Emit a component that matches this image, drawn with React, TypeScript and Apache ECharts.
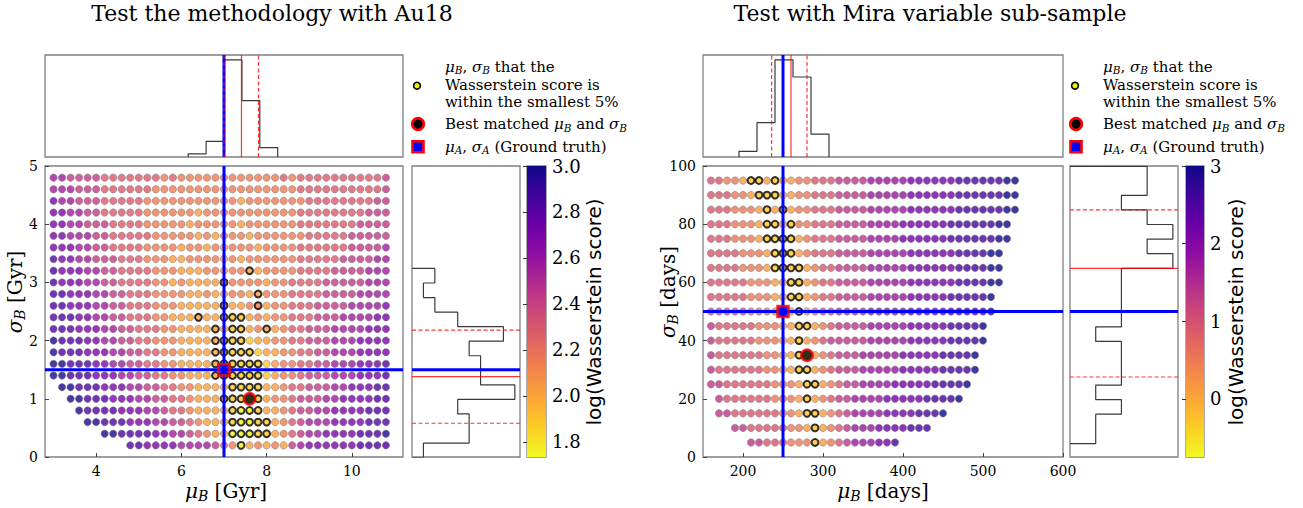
import React, { useEffect, useRef } from "react";
import * as echarts from "echarts";

const SERIF = '"DejaVu Serif", serif';
const SANS = '"DejaVu Sans", sans-serif';

// ---------------- Panel A: Au18 ----------------
const MU_AU18 = [3.0, 3.2, 3.4, 3.6, 3.8, 4.0, 4.2, 4.4, 4.6, 4.8, 5.0, 5.2, 5.4, 5.6, 5.8, 6.0, 6.2, 6.4, 6.6, 6.8,
  7.0, 7.2, 7.4, 7.6, 7.8, 8.0, 8.2, 8.4, 8.6, 8.8, 9.0, 9.2, 9.4, 9.6, 9.8, 10.0, 10.2, 10.4, 10.6, 10.8];
const SIGMA_AU18 = [4.8, 4.6, 4.4, 4.2, 4.0, 3.8, 3.6, 3.4, 3.2, 3.0, 2.8, 2.6, 2.4, 2.2, 2.0, 1.8, 1.6, 1.4, 1.2, 1.0, 0.8, 0.6, 0.4, 0.2];
// one string per sigma row, one char per mu column: log score = LO + code * STEP ("-" = no point)
const SCORE_CODES_AU18 = [
  "6655554444" + "4443433333" + "3333333434" + "4444444445",
  "6665554444" + "4433333333" + "3333333334" + "4444444445",
  "7665554444" + "4333333333" + "3323333333" + "4444444455",
  "7766554444" + "4333333233" + "3333333334" + "4444444555",
  "7766555444" + "4333332333" + "3323333334" + "4444445555",
  "7766655444" + "4433333232" + "3332333333" + "4444455555",
  "7776655444" + "4333323323" + "2333233334" + "4444455556",
  "8776655544" + "4333223333" + "2323333334" + "4444555566",
  "8777665544" + "4433322233" + "2332233334" + "4445555666",
  "8777665544" + "4433232222" + "2333323344" + "4455555666",
  "8877766554" + "4433332232" + "2332233344" + "4455556666",
  "8877766554" + "4433322222" + "2223323344" + "4555566667",
  "8887766554" + "4433222222" + "1112323344" + "4555666677",
  "8887776655" + "4443322222" + "2112322344" + "5556666777",
  "9888776655" + "4433322222" + "1111223344" + "5556667777",
  "9888777665" + "5443322222" + "1111122334" + "4556667777",
  "9988877665" + "5443322222" + "1111112334" + "4556667778",
  "9988877766" + "5544332222" + "1111112334" + "5556667778",
  "-998887776" + "6554433222" + "2111122344" + "5556677788",
  "--99888777" + "6655443222" + "1110123345" + "5566777788",
  "---9888877" + "7665443222" + "2100122345" + "5667777888",
  "----998887" + "7766554322" + "2100112345" + "6667777888",
  "------9988" + "8877665432" + "2000112345" + "6677778889",
  "---------8" + "8777766665" + "4302323256" + "7777778888",
];
const SCORE_LO_AU18 = 1.75;
const SCORE_STEP_AU18 = 0.135;
const CBAR_RANGE_AU18 = [1.734, 3.0];
const CBAR_TICKS_AU18 = [1.8, 2.0, 2.2, 2.4, 2.6, 2.8, 3.0];
const SMALLEST_AU18 = [
  [7.6, 3.2], [7.0, 3.0], [7.8, 2.8], [7.0, 2.6], [7.8, 2.6],
  [6.4, 2.4], [7.0, 2.4], [7.2, 2.4], [7.4, 2.4],
  [6.8, 2.2], [7.2, 2.2], [7.4, 2.2], [8.0, 2.2],
  [6.8, 2.0], [7.0, 2.0], [7.2, 2.0], [7.4, 2.0],
  [6.8, 1.8], [7.0, 1.8], [7.2, 1.8], [7.4, 1.8], [7.6, 1.8],
  [6.8, 1.6], [7.0, 1.6], [7.2, 1.6], [7.4, 1.6], [7.6, 1.6], [7.8, 1.6],
  [6.8, 1.4], [7.0, 1.4], [7.2, 1.4], [7.4, 1.4], [7.6, 1.4], [7.8, 1.4],
  [7.2, 1.2], [7.4, 1.2], [7.6, 1.2], [7.8, 1.2],
  [7.0, 1.0], [7.2, 1.0], [7.4, 1.0], [7.8, 1.0],
  [7.2, 0.8], [7.4, 0.8], [7.6, 0.8], [7.8, 0.8],
  [7.2, 0.6], [7.4, 0.6], [7.6, 0.6], [7.8, 0.6], [8.0, 0.6],
  [7.2, 0.4], [7.4, 0.4], [7.6, 0.4], [7.8, 0.4], [8.0, 0.4],
  [7.4, 0.2],
];
const BEST_AU18 = [7.6, 1.0];
const TRUTH_AU18 = [7.0, 1.5];
const HIST_MU_EDGES_AU18 = [6.16, 6.58, 7.0, 7.42, 7.84, 8.26];
const HIST_MU_COUNTS_AU18 = [1, 5, 31, 18, 3];
const HIST_SIG_EDGES_AU18 = [-0.01, 0.24, 0.49, 0.74, 0.99, 1.24, 1.49, 1.74, 1.99, 2.24, 2.49, 2.74, 2.99, 3.24];
const HIST_SIG_COUNTS_AU18 = [1, 5, 5, 4, 9, 6, 6, 5, 8, 4, 2, 1, 2];
const MU_PCT_AU18 = [7.0, 7.41, 7.81]; // 16th, 50th, 84th
const SIG_PCT_AU18 = [0.58, 1.38, 2.18];

// ---------------- Panel B: Mira ----------------
const MU_MIRA = [160, 170, 180, 190, 200, 210, 220, 230, 240, 250, 260, 270, 280, 290, 300, 310, 320, 330, 340, 350,
  360, 370, 380, 390, 400, 410, 420, 430, 440, 450, 460, 470, 480, 490, 500, 510, 520, 530, 540];
const SIGMA_MIRA = [95, 90, 85, 80, 75, 70, 65, 60, 55, 50, 45, 40, 35, 30, 25, 20, 15, 10, 5];
const SCORE_CODES_MIRA = [
  "4433211212" + "2334445555" + "6666677777" + "788888899",
  "4443321112" + "2334445555" + "6666677777" + "788888899",
  "4443332121" + "2334445555" + "6666677777" + "788888899",
  "4443332112" + "1334445555" + "6666777777" + "88888899-",
  "4443332111" + "1234445555" + "6666777777" + "88888899-",
  "4444333211" + "1234445555" + "6666677777" + "7888899--",
  "4444333211" + "1123445555" + "6666677777" + "7888899--",
  "4444433322" + "1123445555" + "6666677777" + "7888899--",
  "4444433322" + "1123445555" + "6666677777" + "888889---",
  "4444433321" + "2123445555" + "6666677777" + "888889---",
  "5444443332" + "2112345555" + "6666677777" + "88889----",
  "5444443332" + "2123455555" + "6666677777" + "88889----",
  "5444444332" + "2102345556" + "6666777778" + "8889-----",
  "5444444332" + "2112345556" + "6666777778" + "8889-----",
  "5544444433" + "3211234556" + "6667777788" + "889------",
  "-544444433" + "3212345566" + "6677777888" + "89-------",
  "-554444443" + "3211234566" + "6677778889" + "---------",
  "---5544444" + "3321234566" + "67777888--" + "---------",
  "-----55444" + "3331234566" + "6778------" + "---------",
];
const SCORE_LO_MIRA = -0.7;
const SCORE_STEP_MIRA = 0.41;
const CBAR_RANGE_MIRA = [-0.75, 3.0];
const CBAR_TICKS_MIRA = [0, 1, 2, 3];
const SMALLEST_MIRA = [
  [210, 95], [220, 95], [240, 95],
  [220, 90], [230, 90], [240, 90],
  [230, 85], [250, 85],
  [230, 80], [240, 80], [260, 80],
  [230, 75], [240, 75], [250, 75], [260, 75],
  [240, 70], [250, 70], [260, 70],
  [240, 65], [250, 65], [260, 65], [270, 65],
  [260, 60], [270, 60],
  [260, 55], [270, 55],
  [250, 50], [270, 50],
  [270, 45], [280, 45],
  [270, 40],
  [270, 35],
  [270, 30], [280, 30],
  [280, 25], [290, 25],
  [280, 20],
  [280, 15], [290, 15],
  [290, 10],
  [290, 5],
];
const BEST_MIRA = [280, 35];
const TRUTH_MIRA = [250, 50];
const HIST_MU_EDGES_MIRA = [195, 217.5, 240, 262.5, 285, 307.5];
const HIST_MU_COUNTS_MIRA = [1, 6, 17, 14, 4];
const HIST_SIG_EDGES_MIRA = [4.6, 9.6, 14.7, 19.7, 24.7, 29.7, 34.7, 39.7, 44.7, 49.7, 54.8, 59.8, 64.8, 69.9, 74.9, 79.9, 84.9, 89.9, 94.9, 99.9];
const HIST_SIG_COUNTS_MIRA = [1, 1, 2, 1, 2, 2, 2, 1, 2, 2, 2, 2, 4, 3, 4, 3, 2, 3, 3];
const MU_PCT_MIRA = [235.8, 260, 280];
const SIG_PCT_MIRA = [27.5, 64.8, 84.9];

const PLASMA = ["#0d0887", "#41049d", "#6a00a8", "#8f0da4", "#b12a90", "#cc4778", "#e16462", "#f2844b", "#fca636", "#fcce25", "#f0f921"];
const PLASMA_R = [...PLASMA].reverse();

const BORDER = "#808080";
const RED = "rgba(255,0,0,0.8)";
const BLUE = "#0000ff";

function scatterData(mu: number[], sig: number[], codes: string[], lo: number, step: number, hl: number[][]) {
  const out: any[] = [];
  codes.forEach((row, r) => {
    for (let c = 0; c < row.length; c++) {
      const ch = row[c];
      if (ch === "-") continue;
      const m = mu[c];
      const s = sig[r];
      const isHl = hl.some((p) => Math.abs(p[0] - m) < 1e-6 && Math.abs(p[1] - s) < 1e-6);
      const item: any = { value: [m, s, lo + step * Number(ch)] };
      if (isHl) {
        item.symbolSize = 6.8;
        item.itemStyle = { borderColor: "#000", borderWidth: 2 };
      }
      out.push(item);
    }
  });
  return out;
}

function stepX(edges: number[], counts: number[]) {
  const pts: number[][] = [[edges[0], 0]];
  counts.forEach((c, i) => {
    pts.push([edges[i], c]);
    pts.push([edges[i + 1], c]);
  });
  pts.push([edges[edges.length - 1], 0]);
  return pts;
}
function stepY(edges: number[], counts: number[]) {
  const pts: number[][] = [[0, edges[0]]];
  counts.forEach((c, i) => {
    pts.push([c, edges[i]]);
    pts.push([c, edges[i + 1]]);
  });
  pts.push([0, edges[edges.length - 1]]);
  return pts;
}

const SOLID_BLUE = { color: BLUE, width: 3, type: "solid" };
const SOLID_RED = { color: RED, width: 1.2, type: "solid" };
const DASH_RED = { color: RED, width: 1.2, type: [4, 2.5] };

function refLine(axis: number, pts: number[][], style: any, z: number) {
  return {
    type: "line", xAxisIndex: axis, yAxisIndex: axis, data: pts, z, silent: true,
    showSymbol: false, symbol: "none", lineStyle: { ...style }, emphasis: { disabled: true },
  };
}

function mainAxis(gridIndex: number, min: number, max: number, ticks: number[], fmt?: (v: number) => string) {
  return {
    type: "value", gridIndex, min, max,
    axisLine: { show: false }, splitLine: { show: false },
    axisTick: { show: true, inside: true, length: 4, customValues: ticks, lineStyle: { color: "#444", width: 1 } },
    axisLabel: { show: true, customValues: ticks, margin: 7, fontFamily: SERIF, fontSize: 14, color: "#000", formatter: fmt },
  };
}
function hiddenAxis(gridIndex: number, min: number, max: number) {
  return { type: "value", gridIndex, min, max, show: false, splitLine: { show: false } };
}
function cbarAxis(gridIndex: number, min: number, max: number, ticks: number[], fmt: (v: number) => string) {
  return {
    type: "value", gridIndex, min, max, position: "right",
    axisLine: { show: false }, splitLine: { show: false },
    axisTick: { show: true, inside: true, length: 4, customValues: ticks, lineStyle: { color: "#333" } },
    axisLabel: { show: true, customValues: ticks, margin: 6, fontFamily: SERIF, fontSize: 18, color: "#000", formatter: fmt },
  };
}

function panelSeries(base: number, p: any) {
  const [x0, x1] = p.xRange;
  const [y0, y1] = p.yRange;
  return [
    {
      type: "scatter", xAxisIndex: base, yAxisIndex: base, z: 2,
      symbol: "circle", symbolSize: 7.4,
      itemStyle: { borderColor: "rgba(120,120,120,0.75)", borderWidth: 0.8 },
      data: scatterData(p.mu, p.sig, p.codes, p.lo, p.step, p.hl),
    },
    refLine(base, [[p.truth[0], y0], [p.truth[0], y1]], SOLID_BLUE, 5),
    refLine(base, [[x0, p.truth[1]], [x1, p.truth[1]]], SOLID_BLUE, 5),
    {
      type: "scatter", xAxisIndex: base, yAxisIndex: base, z: 10,
      symbol: "circle", symbolSize: 11.5,
      itemStyle: { color: "#000", borderColor: "#ff0000", borderWidth: 2.4 },
      data: [p.best],
    },
    {
      type: "scatter", xAxisIndex: base, yAxisIndex: base, z: 11,
      symbol: "rect", symbolSize: 11,
      itemStyle: { color: BLUE, borderColor: "#ff0000", borderWidth: 2.6 },
      data: [p.truth],
    },
    // top histogram (mu)
    {
      type: "line", xAxisIndex: base + 1, yAxisIndex: base + 1, showSymbol: false, symbol: "none", z: 3,
      lineStyle: { color: "#3a3a3a", width: 1.2 },
      data: stepX(p.muEdges, p.muCounts),
    },
    refLine(base + 1, [[p.truth[0], 0], [p.truth[0], p.muMax]], SOLID_BLUE, 4),
    refLine(base + 1, [[p.muPct[1], 0], [p.muPct[1], p.muMax]], SOLID_RED, 5),
    refLine(base + 1, [[p.muPct[0], 0], [p.muPct[0], p.muMax]], DASH_RED, 5),
    refLine(base + 1, [[p.muPct[2], 0], [p.muPct[2], p.muMax]], DASH_RED, 5),
    // right histogram (sigma)
    {
      type: "line", xAxisIndex: base + 2, yAxisIndex: base + 2, showSymbol: false, symbol: "none", z: 3,
      lineStyle: { color: "#3a3a3a", width: 1.2 },
      data: stepY(p.sigEdges, p.sigCounts),
    },
    refLine(base + 2, [[0, p.truth[1]], [p.sigMax, p.truth[1]]], SOLID_BLUE, 4),
    refLine(base + 2, [[0, p.sigPct[1]], [p.sigMax, p.sigPct[1]]], SOLID_RED, 5),
    refLine(base + 2, [[0, p.sigPct[0]], [p.sigMax, p.sigPct[0]]], DASH_RED, 5),
    refLine(base + 2, [[0, p.sigPct[2]], [p.sigMax, p.sigPct[2]]], DASH_RED, 5),
    // colourbar
    {
      type: "custom", xAxisIndex: base + 3, yAxisIndex: base + 3,
      encode: { x: [0, 2], y: [1, 3] },
      data: [[0, p.cbar[0], 1, p.cbar[1]]],
      renderItem: (_params: any, api: any) => {
        const a = api.coord([api.value(0), api.value(3)]);
        const b = api.coord([api.value(2), api.value(1)]);
        return {
          type: "rect",
          shape: { x: a[0], y: a[1], width: b[0] - a[0], height: b[1] - a[1] },
          style: {
            fill: new echarts.graphic.LinearGradient(0, 0, 0, 1,
              PLASMA.map((c, i) => ({ offset: i / (PLASMA.length - 1), color: c }))),
          },
        };
      },
    },
  ];
}

function rich(size: number, subSize: number, lh: number) {
  return {
    r: { fontFamily: SERIF, fontSize: size, lineHeight: lh, fill: "#000" },
    i: { fontFamily: SERIF, fontStyle: "italic", fontSize: size, lineHeight: lh, fill: "#000" },
    s: { fontFamily: SERIF, fontStyle: "italic", fontSize: subSize, lineHeight: Math.round(subSize), verticalAlign: "bottom", fill: "#000" },
  };
}

function txt(x: number, y: number, text: string, size: number, opts: any = {}) {
  return {
    type: "text", x, y, rotation: opts.rotation || 0, silent: true,
    style: {
      text, fontFamily: opts.family || SERIF, fontSize: size, fill: "#000",
      align: opts.align || "left", verticalAlign: "middle",
      rich: opts.rich,
    },
  };
}

function legendGraphics(x0: number) {
  const tx = x0 + 27;
  const R = rich(15, 10.5, 18);
  return [
    { type: "circle", shape: { cx: x0 - 1, cy: 85.7, r: 3.4 }, style: { fill: "#f5f500", stroke: "#000", lineWidth: 1.6 } },
    txt(tx, 66.7, "{i|μ}{s|B}{r|, }{i|σ}{s|B}{r| that the}", 15, { rich: R }),
    txt(tx, 84.5, "Wasserstein score is", 15),
    txt(tx, 101.5, "within the smallest 5%", 15),
    { type: "circle", shape: { cx: x0, cy: 124, r: 5.8 }, style: { fill: "#000", stroke: "#ff0000", lineWidth: 2.6 } },
    txt(tx, 124, "{r|Best matched }{i|μ}{s|B}{r| and }{i|σ}{s|B}", 15, { rich: R }),
    { type: "rect", shape: { x: x0 - 5.5, y: 146.7 - 5.5, width: 11, height: 11 }, style: { fill: BLUE, stroke: "#ff0000", lineWidth: 2.6 } },
    txt(tx, 146.7, "{i|μ}{s|A}{r|, }{i|σ}{s|A}{r| (Ground truth)}", 15, { rich: R }),
  ];
}

function buildOption() {
  const maxA = Math.max(...HIST_MU_COUNTS_AU18) * 1.05;
  const maxAs = Math.max(...HIST_SIG_COUNTS_AU18) * 1.05;
  const maxB = Math.max(...HIST_MU_COUNTS_MIRA) * 1.05;
  const maxBs = Math.max(...HIST_SIG_COUNTS_MIRA) * 1.05;
  const A = {
    mu: MU_AU18, sig: SIGMA_AU18, codes: SCORE_CODES_AU18, lo: SCORE_LO_AU18, step: SCORE_STEP_AU18,
    hl: SMALLEST_AU18, best: BEST_AU18, truth: TRUTH_AU18, xRange: [2.8, 11.2], yRange: [0, 5],
    muEdges: HIST_MU_EDGES_AU18, muCounts: HIST_MU_COUNTS_AU18, sigEdges: HIST_SIG_EDGES_AU18, sigCounts: HIST_SIG_COUNTS_AU18,
    muPct: MU_PCT_AU18, sigPct: SIG_PCT_AU18, cbar: CBAR_RANGE_AU18, muMax: maxA, sigMax: maxAs,
  };
  const B = {
    mu: MU_MIRA, sig: SIGMA_MIRA, codes: SCORE_CODES_MIRA, lo: SCORE_LO_MIRA, step: SCORE_STEP_MIRA,
    hl: SMALLEST_MIRA, best: BEST_MIRA, truth: TRUTH_MIRA, xRange: [150, 600], yRange: [0, 100],
    muEdges: HIST_MU_EDGES_MIRA, muCounts: HIST_MU_COUNTS_MIRA, sigEdges: HIST_SIG_EDGES_MIRA, sigCounts: HIST_SIG_COUNTS_MIRA,
    muPct: MU_PCT_MIRA, sigPct: SIG_PCT_MIRA, cbar: CBAR_RANGE_MIRA, muMax: maxB, sigMax: maxBs,
  };
  const g = (left: number, top: number, width: number, height: number) => ({
    left, top, width, height, show: true, borderColor: BORDER, borderWidth: 1.3, backgroundColor: "transparent", containLabel: false,
  });

  const seriesA = panelSeries(0, A);
  const seriesB = panelSeries(4, B);
  const axisR = rich(20, 14, 24);

  return {
    animation: false,
    backgroundColor: "#fff",
    grid: [
      g(45, 166, 358, 291), g(45, 55, 358, 102), g(412, 166, 108, 291), g(527, 166, 19, 291),
      g(703, 166, 360, 291), g(703, 55, 360, 102), g(1070, 166, 108, 291), g(1186, 166, 18, 291),
    ],
    xAxis: [
      mainAxis(0, 2.8, 11.2, [4, 6, 8, 10]), hiddenAxis(1, 2.8, 11.2), hiddenAxis(2, 0, maxAs), hiddenAxis(3, 0, 1),
      mainAxis(4, 150, 600, [200, 300, 400, 500, 600]), hiddenAxis(5, 150, 600), hiddenAxis(6, 0, maxBs), hiddenAxis(7, 0, 1),
    ],
    yAxis: [
      mainAxis(0, 0, 5, [0, 1, 2, 3, 4, 5]), hiddenAxis(1, 0, maxA), hiddenAxis(2, 0, 5),
      cbarAxis(3, CBAR_RANGE_AU18[0], CBAR_RANGE_AU18[1], CBAR_TICKS_AU18, (v: number) => v.toFixed(1)),
      mainAxis(4, 0, 100, [0, 20, 40, 60, 80, 100]), hiddenAxis(5, 0, maxB), hiddenAxis(6, 0, 100),
      cbarAxis(7, CBAR_RANGE_MIRA[0], CBAR_RANGE_MIRA[1], CBAR_TICKS_MIRA, (v: number) => String(Math.round(v))),
    ],
    visualMap: [
      { type: "continuous", show: false, seriesIndex: 0, dimension: 2, min: CBAR_RANGE_AU18[0], max: CBAR_RANGE_AU18[1], inRange: { color: PLASMA_R } },
      { type: "continuous", show: false, seriesIndex: seriesA.length, dimension: 2, min: CBAR_RANGE_MIRA[0], max: CBAR_RANGE_MIRA[1], inRange: { color: PLASMA_R } },
    ],
    series: [...seriesA, ...seriesB],
    graphic: [
      txt(272, 13, "Test the methodology with Au18", 22, { align: "center" }),
      txt(930, 13, "Test with Mira variable sub-sample", 22, { align: "center" }),
      txt(226, 491, "{i|μ}{s|B}{r| [Gyr]}", 20, { align: "center", rich: axisR }),
      txt(883, 491, "{i|μ}{s|B}{r| [days]}", 20, { align: "center", rich: axisR }),
      txt(15, 292, "{i|σ}{s|B}{r| [Gyr]}", 20, { align: "center", rich: axisR, rotation: Math.PI / 2 }),
      txt(668, 292, "{i|σ}{s|B}{r| [days]}", 20, { align: "center", rich: axisR, rotation: Math.PI / 2 }),
      txt(594, 312, "log(Wasserstein score)", 20, { align: "center", family: SANS, rotation: Math.PI / 2 }),
      txt(1236, 312, "log(Wasserstein score)", 20, { align: "center", family: SANS, rotation: Math.PI / 2 }),
      ...legendGraphics(418),
      ...legendGraphics(1076),
    ],
  };
}

export default function App() {
  const ref = useRef<HTMLDivElement>(null);
  useEffect(() => {
    if (!ref.current) return;
    const chart = echarts.init(ref.current, null, { renderer: "svg", width: 1303, height: 508 });
    chart.setOption(buildOption() as any);
    return () => chart.dispose();
  }, []);
  return <div ref={ref} style={{ position: "absolute", left: 0, top: 0, width: 1303, height: 508 }} />;
}
